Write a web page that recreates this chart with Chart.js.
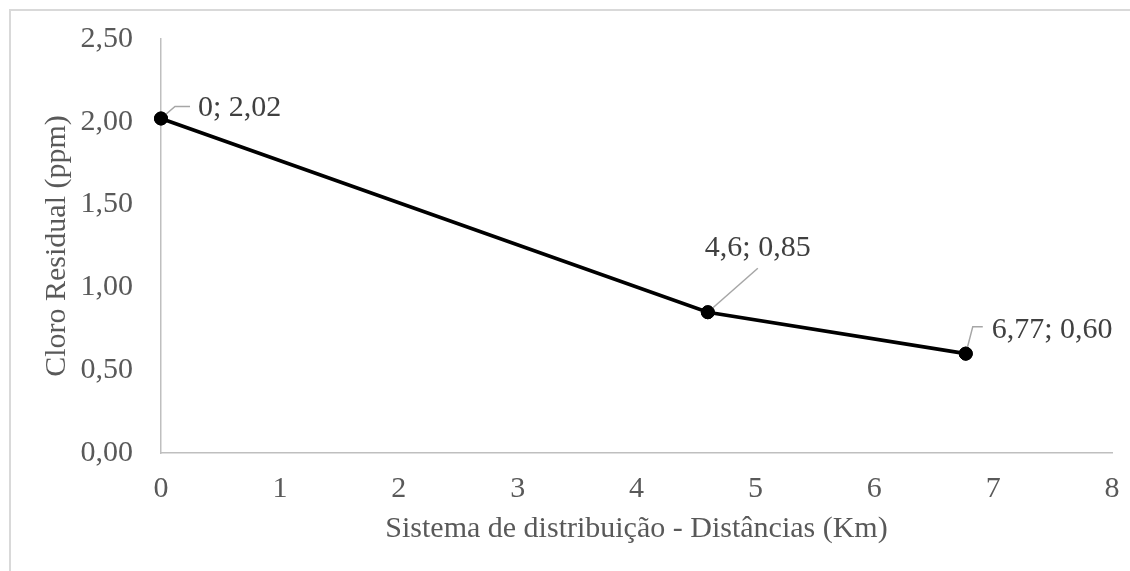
<!DOCTYPE html>
<html>
<head>
<meta charset="utf-8">
<script src="https://cdn.jsdelivr.net/npm/chart.js@4.4.1/dist/chart.umd.min.js"></script>
<style>
  html, body { margin: 0; padding: 0; background: #ffffff; }
  #wrap { width: 1130px; height: 571px; position: relative; }
</style>
</head>
<body>
<div id="wrap"><canvas id="c" width="1130" height="571"></canvas></div>
<script>
// Distances along the distribution system (km) and residual chlorine (ppm)
const distances = [0, 4.6, 6.77];
const chlorine = [2.02, 0.85, 0.60];

const xTitle = 'Sistema de distribuição - Distâncias (Km)';
const yTitle = 'Cloro Residual (ppm)';

const FONT = "'Liberation Serif', 'Times New Roman', serif";
const AXIS_TEXT = '#595959';
const LABEL_TEXT = '#404040';

// Decimal comma formatting
const fmtX = v => String(v).replace('.', ',');
const fmtY = v => v.toFixed(2).replace('.', ',');

// Callout placement for each point label (pixel offsets from the point):
// path = leader line vertices, text = left/middle anchor of the label
const callouts = [
  { path: [[0, 0], [14, -12], [29, -12]], text: [37, -10] },
  { path: [[0, 0], [50, -44]], text: [-3, -64] },
  { path: [[0, 0], [7, -27], [17, -27]], text: [26, -24] }
];

const frame = {
  id: 'frame',
  beforeDraw(chart) {
    const ctx = chart.ctx;
    ctx.save();
    ctx.fillStyle = '#ffffff';
    ctx.fillRect(0, 0, chart.width, chart.height);
    ctx.strokeStyle = '#d9d9d9';
    ctx.lineWidth = 2;
    ctx.strokeRect(10, 10, chart.width + 20, chart.height + 20);
    ctx.restore();
  }
};

const pointLabels = {
  id: 'pointLabels',
  afterDatasetsDraw(chart) {
    const ctx = chart.ctx;
    const meta = chart.getDatasetMeta(0);
    ctx.save();
    meta.data.forEach((pt, i) => {
      const c = callouts[i];
      // leader line
      ctx.strokeStyle = '#a6a6a6';
      ctx.lineWidth = 1.5;
      ctx.beginPath();
      c.path.forEach(([dx, dy], k) => {
        const px = pt.x + dx, py = pt.y + dy;
        if (k === 0) ctx.moveTo(px, py); else ctx.lineTo(px, py);
      });
      ctx.stroke();
      // redraw the point so it sits above the leader
      pt.draw(ctx, chart.chartArea);
      // text
      ctx.fillStyle = LABEL_TEXT;
      ctx.font = '30px ' + FONT;
      ctx.textAlign = 'left';
      ctx.textBaseline = 'middle';
      const d = chart.data.datasets[0].data[i];
      ctx.fillText(fmtX(d.x) + '; ' + fmtY(d.y), pt.x + c.text[0], pt.y + c.text[1]);
    });
    ctx.restore();
  }
};

new Chart(document.getElementById('c'), {
  type: 'scatter',
  data: {
    datasets: [{
      data: distances.map((x, i) => ({ x, y: chlorine[i] })),
      showLine: true,
      borderColor: '#000000',
      borderWidth: 3.75,
      pointRadius: 6.5,
      pointBackgroundColor: '#000000',
      pointBorderColor: '#000000',
      pointBorderWidth: 1,
      tension: 0,
      clip: false
    }]
  },
  options: {
    responsive: false,
    animation: false,
    events: [],
    layout: { autoPadding: false, padding: { left: 0, top: 39, right: 18, bottom: 0 } },
    plugins: {
      legend: { display: false },
      tooltip: { enabled: false }
    },
    scales: {
      x: {
        type: 'linear',
        min: 0,
        max: 8,
        afterFit(scale) {
          scale.height = 571 - 453;
          scale.paddingLeft = 0;
          scale.paddingRight = 0;
        },
        grid: { display: false, drawTicks: false },
        border: { display: true, color: '#bfbfbf', width: 1.5 },
        ticks: {
          stepSize: 1,
          padding: 18,
          color: AXIS_TEXT,
          font: { family: FONT, size: 30 },
          maxRotation: 0,
          callback: v => fmtX(v)
        },
        title: {
          display: true,
          text: xTitle,
          color: AXIS_TEXT,
          font: { family: FONT, size: 30, lineHeight: 1.2 },
          padding: { top: 0, bottom: 24 }
        }
      },
      y: {
        type: 'linear',
        min: 0,
        max: 2.5,
        afterFit(scale) {
          scale.width = 161;
          scale.paddingTop = 0;
          scale.paddingBottom = 0;
        },
        grid: { display: false, drawTicks: false },
        border: { display: true, color: '#bfbfbf', width: 1.5 },
        ticks: {
          stepSize: 0.5,
          padding: 28,
          color: AXIS_TEXT,
          font: { family: FONT, size: 30 },
          callback: v => fmtY(v)
        },
        title: {
          display: true,
          text: yTitle,
          color: AXIS_TEXT,
          font: { family: FONT, size: 30, lineHeight: 1.2 },
          padding: { top: 39, bottom: 0 }
        }
      }
    }
  },
  plugins: [frame, pointLabels]
});
</script>
</body>
</html>
